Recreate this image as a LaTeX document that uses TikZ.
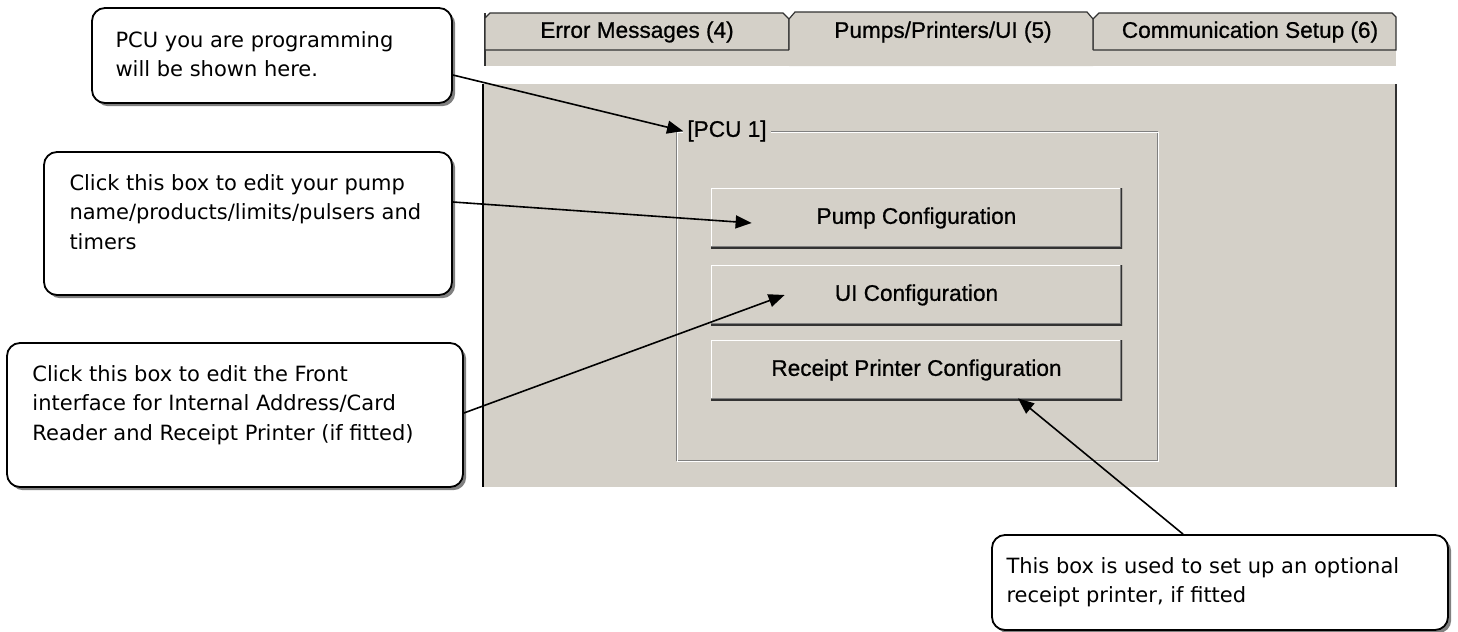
\documentclass[tikz,border=0pt]{standalone}
\usepackage{fontspec}
\setmainfont{DejaVu Sans}
\newfontfamily\uifam{Liberation Sans}[FakeBold=0.8]
\usepackage{xcolor}
\usepackage{tikz}
\usetikzlibrary{arrows.meta,shadows}

\definecolor{uigray}{RGB}{212,208,200}
\definecolor{uidark}{RGB}{50,50,50}
\definecolor{uimid}{RGB}{128,128,128}

\tikzset{
  note/.style={draw=black, line width=0.9pt, rounded corners=6.5pt, fill=white, inner sep=0pt,
    drop shadow={shadow xshift=1.6pt, shadow yshift=-1.6pt, fill=uimid, opacity=1}},
  notetext/.style={anchor=north west, align=left, inner sep=0pt, font=\fontsize{10.5}{14.7}\selectfont},
  uitext/.style={inner sep=0pt, font=\uifam\fontsize{11.3}{13}\selectfont},
  uibtn/.style={uitext, fill=uigray, minimum width=205.5pt, minimum height=30pt,
    path picture={
      \draw[white, line width=1.2pt] (path picture bounding box.south west) |- (path picture bounding box.north east);
      \draw[uimid, line width=2.2pt] (path picture bounding box.south west) -| (path picture bounding box.north east);
      \draw[uidark, line width=1pt] (path picture bounding box.south west) -| (path picture bounding box.north east);
    }},
  tabline/.style={draw=uidark, line width=0.6pt},
  pointer/.style={-{Triangle[length=8pt,width=6.5pt]}, line width=0.8pt},
}

\begin{document}
\begin{tikzpicture}[x=0.5pt,y=-0.5pt]
  \useasboundingbox[fill=white] (0,0) rectangle (1458,632);

  % tab strip and panel
  \fill[uigray] (485,50) rectangle (1396,66);
  \fill[uigray] (483,84) rectangle (1396,487);
  \draw[black, line width=0.75pt] (483,84) -- (483,487);
  \draw[uidark, line width=1pt] (1396,84) -- (1396,487);
  \draw[tabline] (485,13) -- (485,66);
  \filldraw[tabline, fill=uigray] (485,50) -- (485,18) -- (490,13) -- (783,13) -- (789,19) -- (789,50) -- cycle;
  \filldraw[tabline, fill=uigray] (1093,50) -- (1093,19) -- (1099,13) -- (1392,13) -- (1396,17) -- (1396,50) -- cycle;
  \fill[uigray] (789,66) -- (789,19) -- (795,12) -- (1087,12) -- (1093,19) -- (1093,66) -- cycle;
  \draw[tabline] (789,50) -- (789,19) -- (795,12) -- (1087,12) -- (1093,19) -- (1093,50);
  \node[uitext] (errtab) at (637,32) {Error Messages (4)};
  \node[uitext] (pumptab) at (943,32) {Pumps/Printers/UI (5)};
  \node[uitext] (commtab) at (1250,32) {Communication Setup (6)};

  % group box
  \draw[uimid, line width=0.5pt] (676,131) rectangle (1157,460);
  \draw[white, line width=0.5pt] (677.5,132.5) rectangle (1158.5,461.5);
  \node[uitext, fill=uigray, inner xsep=2pt, inner ysep=1pt] (pcugrp) at (727,131) {[PCU 1]};

  \node[uibtn] (pumpbtn) at (916.5,218) {Pump Configuration};
  \node[uibtn] (uibtn) at (916.5,295) {UI Configuration};
  \node[uibtn] (rcptbtn) at (916.5,370) {Receipt Printer Configuration};

  % callouts
  \node[note, minimum width=180pt, minimum height=47.5pt] (pcunote) at (272,55.5) {};
  \node[notetext] (pcutext) at ([shift={(12pt,-11.8pt)}]pcunote.north west)
    {PCU you are programming\\will be shown here.};
  \node[note, minimum width=204pt, minimum height=71.5pt] (pumpnote) at (248,223.5) {};
  \node[notetext] (pumptext) at ([shift={(13pt,-11.5pt)}]pumpnote.north west)
    {Click this box to edit your pump\\name/products/limits/pulsers and\\timers};
  \node[note, minimum width=228pt, minimum height=72pt] (frontnote) at (235,415) {};
  \node[notetext] (fronttext) at ([shift={(13pt,-11.5pt)}]frontnote.north west)
    {Click this box to edit the Front\\interface for Internal Address/Card\\Reader and Receipt Printer (if fitted)};
  \node[note, minimum width=228pt, minimum height=47.5pt] (rcptnote) at (1220,582.5) {};
  \node[notetext] (rcpttext) at ([shift={(7.5pt,-11.5pt)}]rcptnote.north west)
    {This box is used to set up an optional\\receipt printer, if fitted};

  \draw[pointer] ([yshift=-9.75pt]pcunote.east) -- (pcugrp.west);
  \draw[pointer] ([yshift=10.75pt]pumpnote.east) -- ([shift={(20.5pt,-2.5pt)}]pumpbtn.west);
  \draw[pointer] ([yshift=1pt]frontnote.east) -- ([xshift=37pt]uibtn.west);
  \draw[pointer] ([xshift=-18.5pt]rcptnote.north) -- ([shift={(50.75pt,1pt)}]rcptbtn.south);
\end{tikzpicture}
\end{document}
